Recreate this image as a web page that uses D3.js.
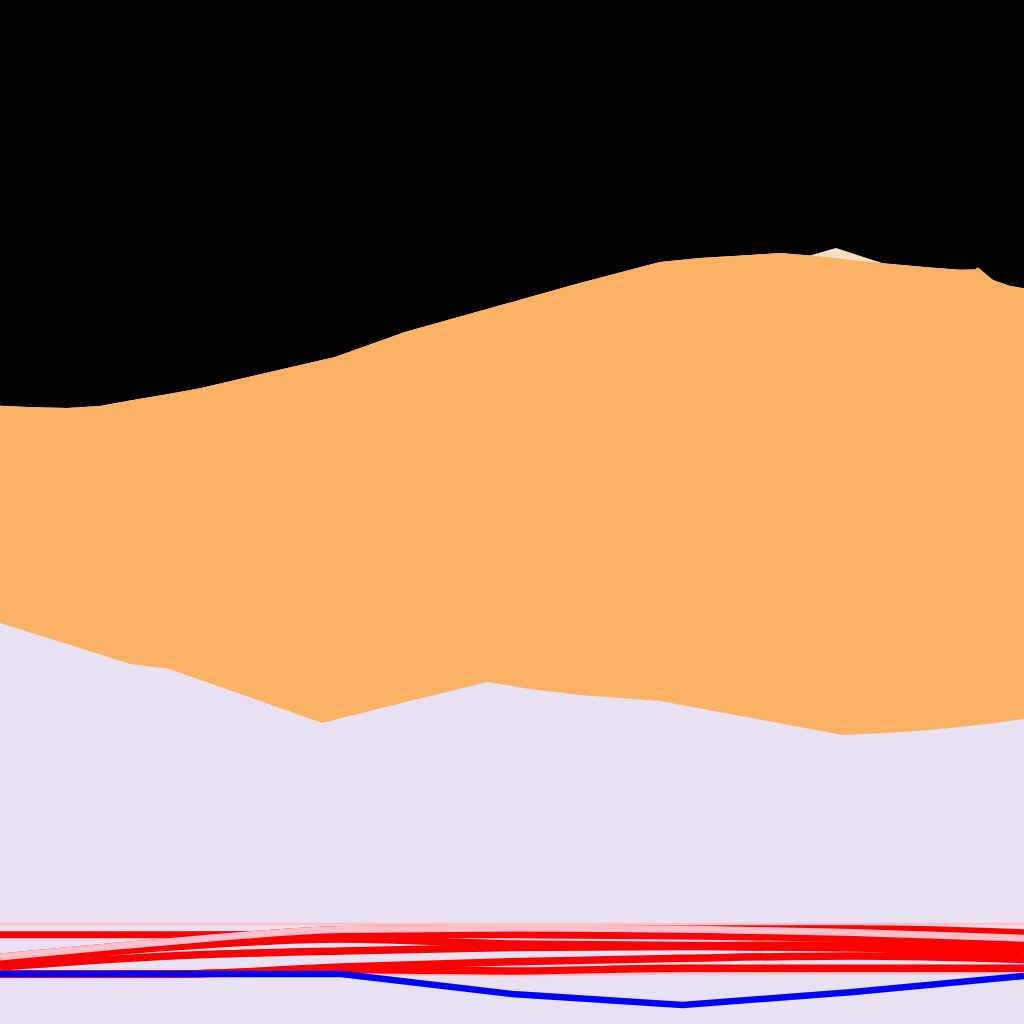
<!DOCTYPE html>
<html>
<head>
<meta charset="utf-8">
<script src="https://cdn.jsdelivr.net/npm/d3@7"></script>
<style>
  html, body { margin: 0; padding: 0; background: #000; }
  svg { display: block; }
</style>
</head>
<body>
<svg id="chart" width="1024" height="1024"></svg>
<script>
// ---- area data (stacked layers) ----
const areaX = [0, 0.193, 0.393, 0.586, 0.762, 0.979, 1.172, 1.582, 1.887, 1.963, 2.373, 2.854, 3.105, 3.398, 3.867, 4.102, 4.395, 4.570, 4.746, 4.898, 4.939, 5.174, 5.432, 5.625, 5.713, 5.730, 5.818, 5.918, 6];
const lavender = [39.16, 38.14, 37.10, 36.08, 35.16, 34.71, 33.62, 31.20, 29.39, 29.71, 31.41, 33.40, 32.71, 32.13, 31.54, 30.82, 29.91, 29.37, 28.82, 28.35, 28.22, 28.39, 28.68, 29.00, 29.17, 29.20, 29.38, 29.59, 29.79];
const orange = [21.22, 22.08, 23.06, 24.27, 25.72, 26.79, 28.46, 32.47, 35.45, 35.43, 36.17, 36.43, 38.28, 40.23, 42.87, 43.98, 45.19, 45.93, 46.23, 46.46, 46.48, 45.90, 45.21, 44.66, 44.51, 44.68, 43.28, 42.48, 42.06];
const peach = [0, 0, 0, 0, 0, 0, 0, 0, 0, 0, 0, 0, 0, 0, 0, 0, 0, 0, 0, 0.98, 0.85, 0, 0, 0, 0, 0, 0, 0, 0];

// ---- line data ----
const lineX = [0, 1, 2, 3, 4, 5, 6];
const pinkThin = [9.77, 9.77, 9.77, 9.77, 9.77, 9.77, 9.77];
const red0 = [6.54, 8.06, 9.23, 9.38, 9.33, 9.33, 8.92];
const red1 = [8.72, 8.72, 8.74, 8.72, 8.59, 8.35, 7.81];
const red2 = [5.96, 7.52, 8.30, 7.81, 7.67, 7.71, 7.23];
const red3 = [5.57, 6.64, 7.13, 7.47, 7.57, 7.42, 6.54];
const red4 = [4.88, 4.88, 5.57, 6.08, 6.42, 6.64, 6.30];
const red5 = [4.88, 4.88, 5.32, 5.18, 5.44, 5.44, 5.44];
const pink1 = [6.54, 8.06, 9.23, 9.38, 9.28, 8.94, 8.37];
const pink3 = [4.79, 4.79, 5.08, 4.98, 5.13, 5.13, 5.13];
const blue = [4.88, 4.88, 4.88, 2.93, 1.86, 3.13, 4.69];

const W = 1024, H = 1024;
const svg = d3.select('#chart');
const x = d3.scaleLinear().domain([0, 6]).range([0, W]);
const y = d3.scaleLinear().domain([0, 100]).range([H, 0]);

// background
svg.append('rect').attr('width', W).attr('height', H).attr('fill', '#000');

// stacked areas (each layer filled down to the baseline, drawn top layer first, so no seams)
const table = areaX.map((xv, i) => ({ x: xv, lavender: lavender[i], orange: orange[i], peach: peach[i] }));
const keys = ['lavender', 'orange', 'peach'];
const colors = { lavender: '#e8e1f3', orange: '#fbb264', peach: '#fde0c3' };
const stacked = d3.stack().keys(keys)(table);
const area = d3.area()
  .x(d => x(d.data.x))
  .y0(() => y(0))
  .y1(d => y(d[1]))
  .curve(d3.curveLinear);
svg.selectAll('path.layer').data(stacked.slice().reverse()).join('path')
  .attr('class', 'layer')
  .attr('d', area)
  .attr('fill', d => colors[d.key]);

// lines (drawn bottom to top)
const series = [
  { values: pink3, color: '#ffc0cb', width: 7, smooth: true },
  { values: red5, color: '#ff0000', width: 7.5, smooth: true },
  { values: red4, color: '#ff0000', width: 7.5, smooth: true },
  { values: red0, color: '#ff0000', width: 7, smooth: true },
  { values: red1, color: '#ff0000', width: 7, smooth: true },
  { values: red3, color: '#ff0000', width: 7.5, smooth: true },
  { values: red2, color: '#ff0000', width: 7.5, smooth: true },
  { values: pink1, color: '#ffc0cb', width: 7, smooth: true },
  { values: pinkThin, color: '#ffc0cb', width: 2.5, smooth: true },
  { values: blue, color: '#0000ff', width: 6.5, smooth: false }
];
const lineSmooth = d3.line()
  .x((d, i) => x(lineX[i]))
  .y(d => y(d))
  .curve(d3.curveMonotoneX);
const lineStraight = d3.line()
  .x((d, i) => x(lineX[i]))
  .y(d => y(d))
  .curve(d3.curveLinear);
svg.selectAll('path.series').data(series).join('path')
  .attr('class', 'series')
  .attr('d', d => (d.smooth ? lineSmooth : lineStraight)(d.values))
  .attr('fill', 'none')
  .attr('stroke', d => d.color)
  .attr('stroke-width', d => d.width)
  .attr('stroke-linejoin', 'round');
</script>
</body>
</html>
